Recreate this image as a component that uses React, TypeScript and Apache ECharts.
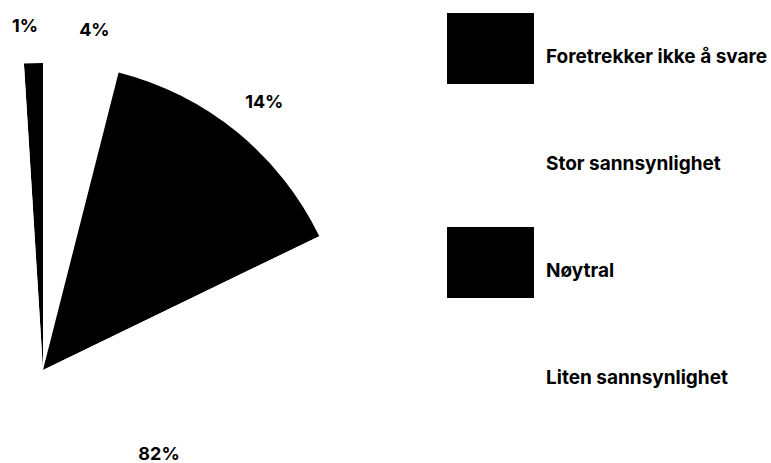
import React, { useEffect, useRef } from "react";
import * as echarts from "echarts";

const categories = [
  "Foretrekker ikke å svare",
  "Stor sannsynlighet",
  "Nøytral",
  "Liten sannsynlighet",
];
const values = [1, 4, 14, 82];
const colors = ["#000000", "#ffffff", "#000000", "#ffffff"];

const FONT = "Inter, 'Noto Sans', sans-serif";

export default function App() {
  const ref = useRef<HTMLDivElement>(null);
  useEffect(() => {
    if (!ref.current) return;
    const chart = echarts.init(ref.current, null, { renderer: "svg" });
    const total = values.reduce((a, b) => a + b, 0);
    const startAngle = 90 + (360 * values[0]) / total;
    const data = categories.map((name, i) => ({
      name,
      value: values[i],
      itemStyle: { color: colors[i] },
    }));
    chart.setOption({
      animation: false,
      backgroundColor: "#ffffff",
      legend: {
        orient: "vertical",
        left: 447,
        top: 13,
        padding: 0,
        itemWidth: 87,
        itemHeight: 71,
        itemGap: 36,
        icon: "rect",
        data: categories,
        itemStyle: { borderWidth: 0 },
        formatter: "{a|{name}}",
        textStyle: {
          fontSize: 19,
          fontWeight: 700,
          fontFamily: FONT,
          color: "#000000",
          rich: {
            a: {
              fontSize: 19,
              fontWeight: 700,
              fontFamily: FONT,
              color: "#000000",
              padding: [16, 0, 0, 7],
            },
          },
        },
      },
      series: [
        {
          type: "pie",
          center: [43, 370],
          radius: 307,
          startAngle,
          clockwise: true,
          silent: true,
          label: { show: false },
          labelLine: { show: false },
          itemStyle: { borderWidth: 0 },
          data,
        },
        {
          type: "pie",
          center: [43, 370],
          radius: [336, 358],
          startAngle,
          clockwise: true,
          silent: true,
          legendHoverLink: false,
          itemStyle: { color: "rgba(0,0,0,0)", borderWidth: 0 },
          label: {
            show: true,
            position: "inside",
            formatter: "{c}%",
            fontSize: 18,
            fontWeight: 700,
            fontFamily: FONT,
            color: "#000000",
          },
          labelLine: { show: false },
          labelLayout: (params: any) => {
            if (params.dataIndex === 0) return { dx: -7, dy: 5 };
            if (params.dataIndex === 1) return { dx: 8, dy: 7 };
            if (params.dataIndex === 2) return { dy: 3 };
            if (params.dataIndex === 3) return { x: 159, y: 453 };
            return {};
          },
          data: categories.map((name, i) => ({
            name: name + " ",
            value: values[i],
          })),
        },
      ],
    });
    return () => chart.dispose();
  }, []);
  return (
    <div
      ref={ref}
      style={{ position: "fixed", left: 0, top: 0, width: 771, height: 463 }}
    />
  );
}
